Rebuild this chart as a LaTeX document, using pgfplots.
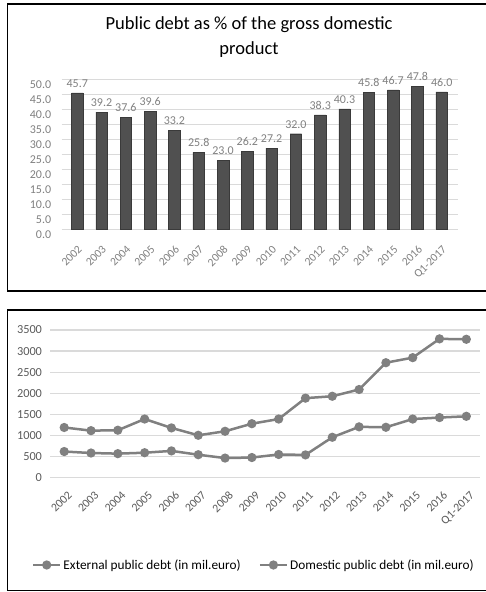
\documentclass[border=0pt]{standalone}
\usepackage{fontspec}
\setmainfont{Carlito}
\usepackage{pgfplots}
\pgfplotsset{compat=1.18}
\usepackage{pgfplotstable}

\definecolor{barfill}{HTML}{505050}
\definecolor{baredge}{HTML}{3A3A3A}
\definecolor{gridc}{HTML}{DADADA}
\definecolor{ticklight}{HTML}{808080}
\definecolor{tickdark}{HTML}{5A5A5A}
\definecolor{linec}{HTML}{808080}

% Public debt as % of GDP
\pgfplotstableread{
idx val
0  45.7
1  39.2
2  37.6
3  39.6
4  33.2
5  25.8
6  23.0
7  26.2
8  27.2
9  32.0
10 38.3
11 40.3
12 45.8
13 46.7
14 47.8
15 46.0
}\gdpshare

% External public debt (mil. euro)
\pgfplotstableread{
idx val
0  1190
1  1115
2  1125
3  1390
4  1180
5  1005
6  1100
7  1280
8  1390
9  1885
10 1930
11 2090
12 2725
13 2845
14 3290
15 3280
}\extdebt

% Domestic public debt (mil. euro)
\pgfplotstableread{
idx val
0  620
1  585
2  570
3  592
4  635
5  545
6  465
7  478
8  550
9  540
10 958
11 1205
12 1195
13 1390
14 1425
15 1455
}\domdebt

\begin{document}
\begin{tikzpicture}
\useasboundingbox (0pt,0pt) rectangle (485pt,592pt);

% panel frames (right edge runs off the page)
\draw[line width=1.5pt,black] (495pt,588pt) -- (7.5pt,588pt) -- (7.5pt,301pt) -- (495pt,301pt);
\draw[line width=1.5pt,black] (495pt,282pt) -- (7.5pt,282pt) -- (7.5pt,1.3pt) -- (495pt,1.3pt);

% title of the upper chart
\node[anchor=base,font=\fontsize{18.5}{22}\selectfont] at (249pt,562pt) {Public debt as \% of the gross domestic};
\node[anchor=base,font=\fontsize{18.5}{22}\selectfont] at (249pt,537pt) {product};

% upper chart: bars
\begin{axis}[
  at={(61.7pt,362.7pt)}, anchor=south west,
  scale only axis, width=396.3pt, height=149.3pt,
  xmin=-0.64, xmax=15.67, ymin=0, ymax=50,
  axis line style={draw=none}, major tick style={draw=none},
  ymajorgrids, grid style={gridc,line width=1pt},
  ytick={0,5,...,50},
  xtick={0,...,15},
  xticklabels={2002,2003,2004,2005,2006,2007,2008,2009,2010,2011,2012,2013,2014,2015,2016,Q1-2017},
  /pgf/number format/assume math mode=true,
  yticklabel style={/pgf/number format/.cd,fixed,fixed zerofill,precision=1,/tikz/.cd,
    font=\fontsize{12}{13}\selectfont,text=ticklight,xshift=-7pt,yshift=-5pt},
  xticklabel style={yshift=-14pt,rotate=45,anchor=north east,font=\fontsize{11.5}{13}\selectfont,text=ticklight,inner sep=1pt},
  clip=false,
]
\addplot[ybar,bar width=11.5pt,fill=barfill,draw=baredge,
  nodes near coords,
  every node near coord/.append style={font=\fontsize{12}{13}\selectfont,text=ticklight,yshift=2pt,
    /pgf/number format/.cd,fixed,fixed zerofill,precision=1,assume math mode=true}]
  table[x=idx,y=val]{\gdpshare};
\end{axis}

% lower chart: lines
\begin{axis}[
  at={(50pt,114.3pt)}, anchor=south west,
  scale only axis, width=430pt, height=147.7pt,
  xmin=-0.53, xmax=15.51, ymin=0, ymax=3500,
  axis line style={draw=none}, major tick style={draw=none},
  ymajorgrids, grid style={gridc,line width=1.2pt},
  ytick={0,500,...,3500},
  xtick={0,...,15},
  xticklabels={2002,2003,2004,2005,2006,2007,2008,2009,2010,2011,2012,2013,2014,2015,2016,Q1-2017},
  /pgf/number format/assume math mode=true,
  /pgf/number format/1000 sep={},
  yticklabel style={font=\fontsize{12.3}{13}\selectfont,text=tickdark,xshift=-4.5pt},
  xticklabel style={xshift=3pt,yshift=-11pt,rotate=45,anchor=north east,font=\fontsize{11.8}{13}\selectfont,text=tickdark,inner sep=1pt},
  legend columns=2,
  legend style={draw=none,fill=none,at={(0.474,-0.591)},anchor=center,
    font=\fontsize{13.3}{15}\selectfont,
    /tikz/every even column/.append style={column sep=16pt},
    inner xsep=0pt},
  legend cell align=left,
  legend image code/.code={\draw[mark repeat=2,mark phase=2,#1] plot coordinates {(0pt,0pt) (13.5pt,0pt) (27pt,0pt)};},
  clip=false,
]
\addplot[linec,line width=2.5pt,mark=*,mark size=3.3pt] table[x=idx,y=val]{\extdebt};
\addlegendentry{External public debt (in mil.euro)}
\addplot[linec,line width=2.5pt,mark=*,mark size=3.3pt] table[x=idx,y=val]{\domdebt};
\addlegendentry{Domestic public debt (in mil.euro)}
\end{axis}
\end{tikzpicture}
\end{document}
